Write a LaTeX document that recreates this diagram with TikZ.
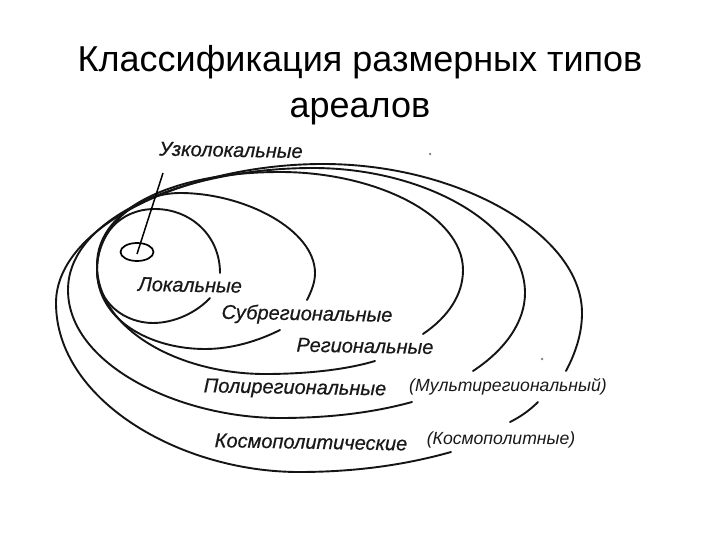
\documentclass[tikz,border=0pt]{standalone}
\usepackage{fontspec}
\setmainfont{Liberation Sans}
\newfontfamily\labelfont[FakeBold=0.6]{Liberation Sans}
\usetikzlibrary{shapes.geometric}
\tikzset{
  arealine/.style={line width=1.9pt,line cap=round,black!92},
  titletext/.style={font=\fontsize{36}{42}\selectfont,inner sep=0pt,anchor=base},
  biglabel/.style={font=\labelfont\itshape\fontsize{20}{24}\selectfont,inner sep=0pt,anchor=center,black!90,rotate=-1},
  smalllabel/.style={font=\itshape\fontsize{17.6}{20}\selectfont,inner sep=0pt,anchor=center,black!90},
  speck/.style={circle,fill=black!55,inner sep=0pt,minimum size=2.5pt}
}
\begin{document}
\begin{tikzpicture}[x=1pt,y=-1pt]
\useasboundingbox[fill=white] (0,0) rectangle (720,540);
\node[titletext] (t1) at (360,72) {Классификация размерных типов};
\node[titletext] (t2) at (360,118) {ареалов};
% Local
\draw[arealine] (220,273) .. controls (220,235) and (190,209) .. (155,209) .. controls (120,209) and (97,235) .. (97,270) .. controls (97,303) and (125,323) .. (153,323) .. controls (175,323) and (197,312) .. (210,298);
% Subregional
\draw[arealine] (307,300) .. controls (312,290) and (315,282) .. (315,273) .. controls (315,230) and (245,193) .. (180,193) .. controls (135,193) and (97,228) .. (97,270) .. controls (97,320) and (150,349) .. (205,349) .. controls (232,349) and (258,341) .. (280,330);
% Regional
\draw[arealine] (423,334) .. controls (448,317) and (463,295) .. (463,270) .. controls (463,215) and (375,172) .. (280,172) .. controls (180,172) and (97,205) .. (97,265) .. controls (97,330) and (180,374) .. (265,374) .. controls (305,374) and (345,370) .. (375,361);
% Polyregional
\draw[arealine] (473,371) .. controls (505,350) and (525,322) .. (525,293) .. controls (525,225) and (425,168) .. (313,168) .. controls (190,168) and (68,215) .. (68,290) .. controls (68,365) and (180,418) .. (280,418) .. controls (328,418) and (372,413) .. (412,402);
% Cosmopolitan
\draw[arealine] (566,371) .. controls (576,352) and (582,333) .. (582,313) .. controls (582,235) and (460,164) .. (323,164) .. controls (190,164) and (56,225) .. (56,303) .. controls (56,400) and (180,472) .. (299,472) .. controls (355,472) and (405,465) .. (451,452);
\draw[arealine] (538,402) .. controls (529,411) and (520,417) .. (510,422);
% Narrow local
\node[draw,ellipse,line width=1.7pt,minimum width=33pt,minimum height=18pt,inner sep=0pt] (el) at (137,252) {};
\coordinate (lead) at (163,173);
\coordinate (leadend) at (137,254);
\draw[line width=1.5pt] (lead) -- (leadend);
% Labels
\node[biglabel] (l1) at (231,150) {Узколокальные};
\node[biglabel] (l2) at (190,285) {Локальные};
\node[biglabel] (l3) at (307,315) {Субрегиональные};
\node[biglabel] (l4) at (365,346) {Региональные};
\node[biglabel] (l5) at (295,389) {Полирегиональные};
\node[biglabel] (l6) at (311,442) {Космополитические};
\node[smalllabel] (l7) at (508,387) {(Мультирегиональный)};
\node[smalllabel] (l8) at (501,440) {(Космополитные)};
\node[speck] (s1) at (430,154) {};
\node[speck] (s2) at (542,359) {};
\end{tikzpicture}
\end{document}
